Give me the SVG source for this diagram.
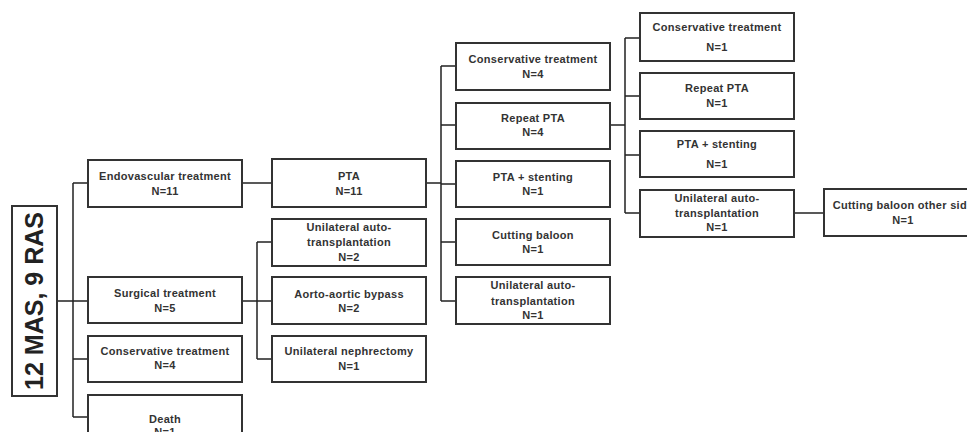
<svg xmlns="http://www.w3.org/2000/svg" width="967" height="432" viewBox="0 0 967 432">
<style>
.box{fill:#fff;stroke:#333;stroke-width:2}
.t{font-family:"Liberation Sans",Arial,sans-serif;font-weight:bold;font-size:11px;letter-spacing:0.3px;fill:#333;text-anchor:middle}
.root{font-family:"Liberation Sans",Arial,sans-serif;font-weight:bold;font-size:25px;fill:#222;text-anchor:middle}
.c{fill:none;stroke:#222;stroke-width:1.5}
</style>
<rect width="967" height="432" fill="#fff"/>
<g id="connectors">
<path class="c" d="M57 301H73M73 183V417M73 183H88M73 301H88M73 359H88M73 417H88"/>
<path class="c" d="M242 183H272"/>
<path class="c" d="M242 301H257M257 242V359M257 242H272M257 301H272M257 359H272"/>
<path class="c" d="M426 183H441M441 66V301M441 66H456M441 125H456M441 184H456M441 242H456M441 301H456"/>
<path class="c" d="M610 125H625M625 38V213M625 38H640M625 96H640M625 155H640M625 213H640"/>
<path class="c" d="M794 213H824"/>
</g>
<g id="root">
<rect class="box" x="12" y="206" width="45" height="190"/>
<text class="root" transform="translate(43 301) rotate(-90)">12 MAS, 9 RAS</text>
</g>
<g id="endovascular">
<rect class="box" x="88" y="160" width="154" height="47"/>
<text class="t" x="165" y="180">Endovascular treatment</text>
<text class="t" x="165" y="195">N=11</text>
</g>
<g id="surgical">
<rect class="box" x="88" y="277" width="154" height="46"/>
<text class="t" x="165" y="297">Surgical treatment</text>
<text class="t" x="165" y="312">N=5</text>
</g>
<g id="conservative1">
<rect class="box" x="88" y="336" width="154" height="46"/>
<text class="t" x="165" y="355">Conservative treatment</text>
<text class="t" x="165" y="369">N=4</text>
</g>
<g id="death">
<rect class="box" x="88" y="395" width="154" height="50"/>
<text class="t" x="165" y="423">Death</text>
<text class="t" x="165" y="436">N=1</text>
</g>
<g id="pta">
<rect class="box" x="272" y="159" width="154" height="48"/>
<text class="t" x="349" y="180">PTA</text>
<text class="t" x="349" y="195">N=11</text>
</g>
<g id="autotx2">
<rect class="box" x="272" y="219" width="154" height="47"/>
<text class="t" x="349" y="231">Unilateral auto-</text>
<text class="t" x="349" y="246">transplantation</text>
<text class="t" x="349" y="261">N=2</text>
</g>
<g id="bypass">
<rect class="box" x="272" y="277" width="154" height="47"/>
<text class="t" x="349" y="298">Aorto-aortic bypass</text>
<text class="t" x="349" y="312">N=2</text>
</g>
<g id="nephrectomy">
<rect class="box" x="272" y="336" width="154" height="46"/>
<text class="t" x="349" y="355">Unilateral nephrectomy</text>
<text class="t" x="349" y="370">N=1</text>
</g>
<g id="conservative2">
<rect class="box" x="456" y="43" width="154" height="47"/>
<text class="t" x="533" y="63">Conservative treatment</text>
<text class="t" x="533" y="78">N=4</text>
</g>
<g id="repeatpta4">
<rect class="box" x="456" y="103" width="154" height="46"/>
<text class="t" x="533" y="122">Repeat PTA</text>
<text class="t" x="533" y="136">N=4</text>
</g>
<g id="stenting1">
<rect class="box" x="456" y="161" width="154" height="46"/>
<text class="t" x="533" y="181">PTA + stenting</text>
<text class="t" x="533" y="195">N=1</text>
</g>
<g id="cutting">
<rect class="box" x="456" y="219" width="154" height="46"/>
<text class="t" x="533" y="239">Cutting baloon</text>
<text class="t" x="533" y="253">N=1</text>
</g>
<g id="autotx1">
<rect class="box" x="456" y="277" width="154" height="47"/>
<text class="t" x="533" y="289">Unilateral auto-</text>
<text class="t" x="533" y="305">transplantation</text>
<text class="t" x="533" y="319">N=1</text>
</g>
<g id="conservative3">
<rect class="box" x="640" y="13" width="154" height="48"/>
<text class="t" x="717" y="31">Conservative treatment</text>
<text class="t" x="717" y="51">N=1</text>
</g>
<g id="repeatpta1">
<rect class="box" x="640" y="73" width="154" height="46"/>
<text class="t" x="717" y="92">Repeat PTA</text>
<text class="t" x="717" y="107">N=1</text>
</g>
<g id="stenting2">
<rect class="box" x="640" y="131" width="154" height="46"/>
<text class="t" x="717" y="148">PTA + stenting</text>
<text class="t" x="717" y="168">N=1</text>
</g>
<g id="autotx3">
<rect class="box" x="640" y="190" width="154" height="47"/>
<text class="t" x="717" y="202">Unilateral auto-</text>
<text class="t" x="717" y="217">transplantation</text>
<text class="t" x="717" y="231">N=1</text>
</g>
<g id="cuttingother">
<rect class="box" x="824" y="189" width="158" height="47"/>
<text class="t" x="903" y="209">Cutting baloon other side</text>
<text class="t" x="903" y="224">N=1</text>
</g>
</svg>
